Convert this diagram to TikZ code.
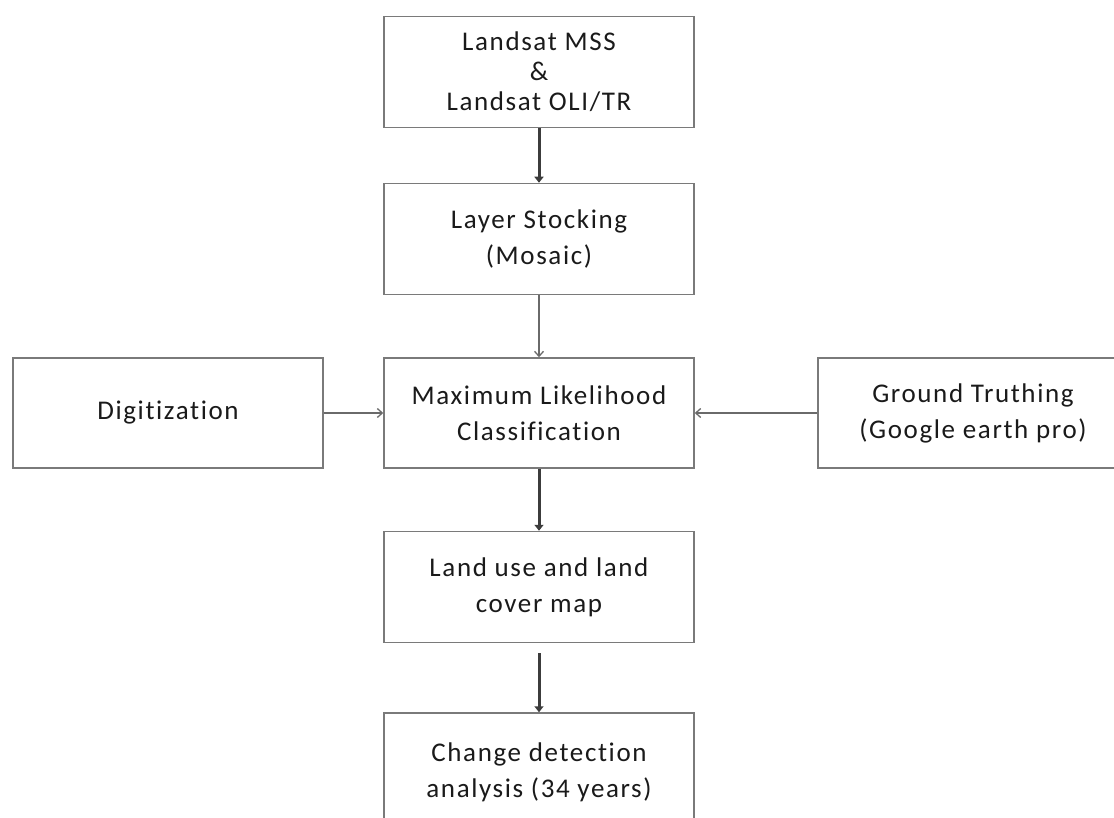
\documentclass[tikz,border=0pt]{standalone}
\usepackage{fontspec}
\setmainfont{Carlito}[LetterSpace=6,Ligatures={NoCommon}]
\usetikzlibrary{arrows.meta}
\definecolor{boxline}{HTML}{7A7A7A}
\definecolor{thickarr}{HTML}{3C3C3C}
\definecolor{thinarr}{HTML}{6A6A6A}
\definecolor{txt}{HTML}{1A1A1A}
\tikzset{
  x=1pt, y=-1pt,
  flowbox/.style={draw=boxline, line width=1.5pt, minimum width=310pt, minimum height=111pt,
    align=center, inner sep=0pt, text=txt, font=\fontsize{27}{36}\selectfont},
  thickarrow/.style={draw=thickarr, line width=3pt, -{Triangle[width=9pt,length=6pt]}},
  thinarrow/.style={draw=thinarr, line width=1.3pt, -{Straight Barb[width=9pt,length=5pt,line width=1.3pt]}},
}
\begin{document}
\begin{tikzpicture}
\clip (0,0) rectangle (1114,818);
\fill[white] (0,0) rectangle (1114,818);
\node[flowbox, font=\fontsize{27}{30}\selectfont] (src) at (539,72) {Landsat MSS\\\&\\Landsat OLI/TR};
\node[flowbox] (stack) at (539,239) {Layer Stocking\\(Mosaic)};
\node[flowbox, minimum height=110pt] (mlc) at (539,413) {Maximum Likelihood\\Classification};
\node[flowbox, minimum height=110pt] (dig) at (168,413) {Digitization};
\node[flowbox, minimum height=110pt] (gt) at (973,413) {Ground Truthing\\(Google earth pro)};
\node[flowbox] (lulc) at (539,587) {Land use and land\\cover map};
\node[flowbox, minimum height=118pt] (cd) at (539,772) {Change detection\\analysis (34 years)};
\draw[thickarrow] (src) -- (stack);
\draw[thinarrow] (stack) -- (mlc);
\draw[thinarrow] (dig) -- (mlc);
\draw[thinarrow] (gt) -- (mlc);
\draw[thickarrow] (mlc) -- (lulc);
\draw[thickarrow, shorten <=10pt] (lulc) -- (cd);
\end{tikzpicture}
\end{document}
